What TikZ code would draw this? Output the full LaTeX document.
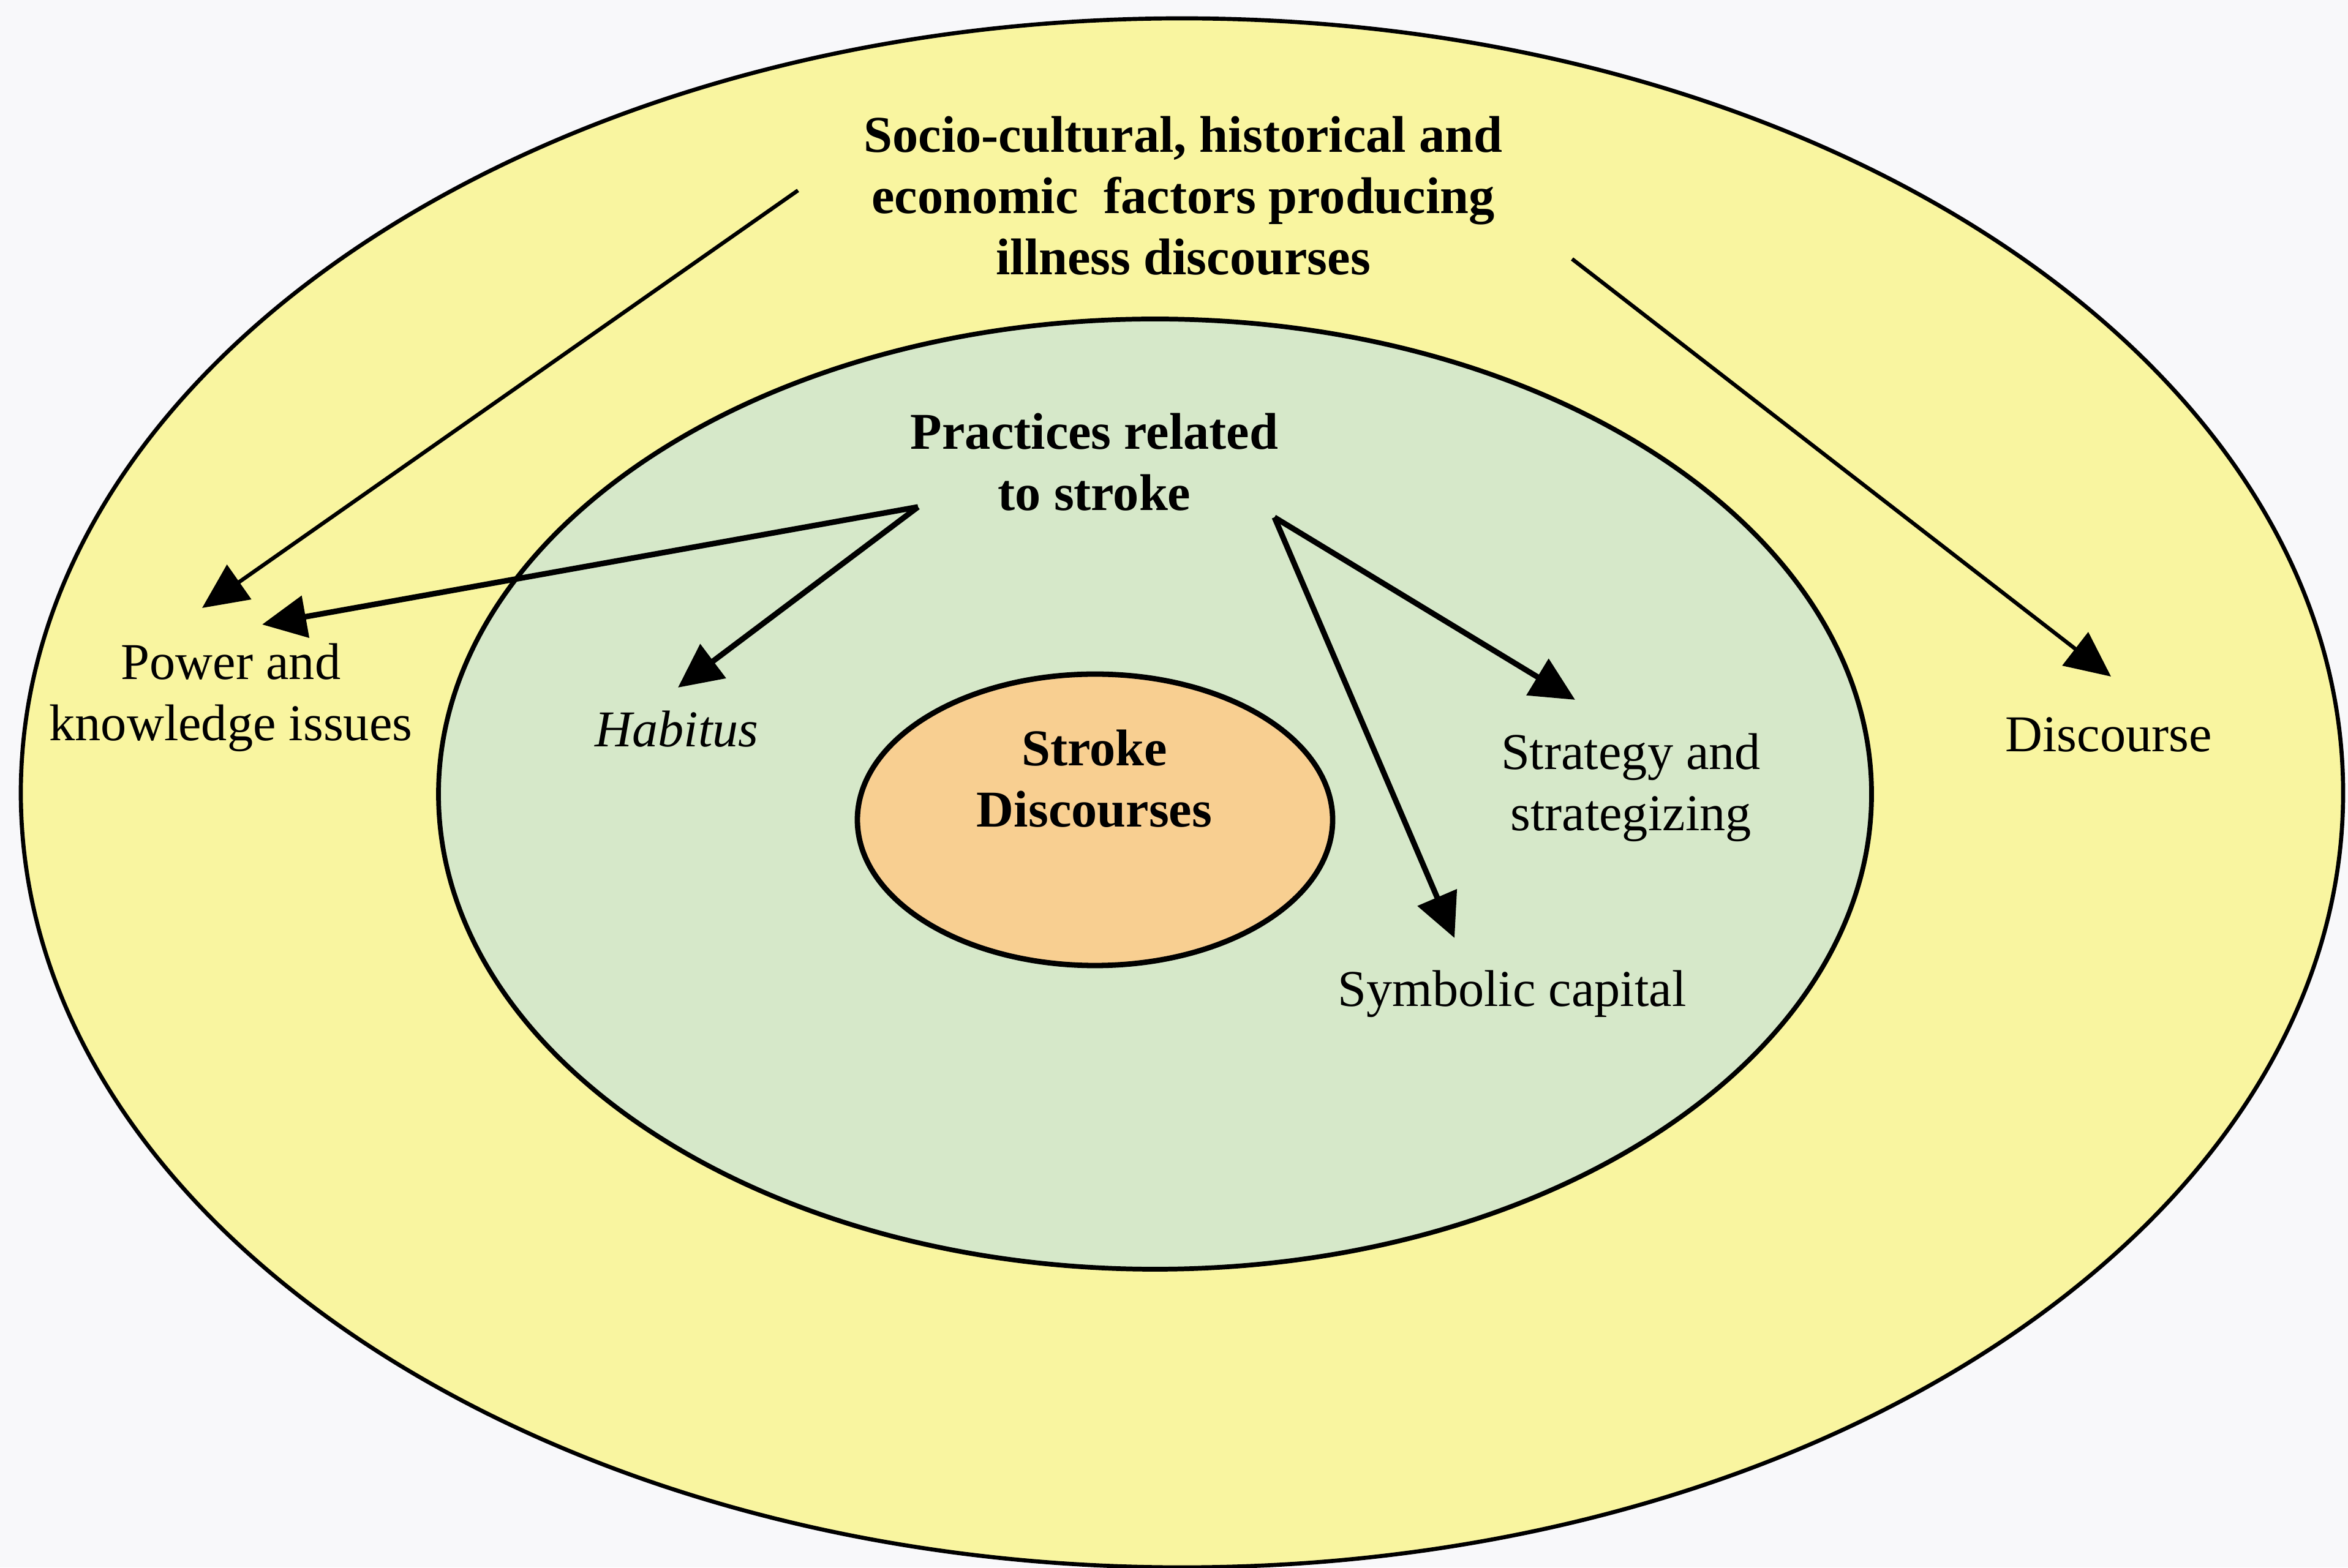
\documentclass[tikz,border=0pt]{standalone}
\usepackage{fontspec}
\setmainfont{Liberation Serif}
\usetikzlibrary{arrows.meta,shapes.geometric}

\definecolor{pagebg}{RGB}{248,248,250}
\definecolor{outerfill}{RGB}{249,245,160}
\definecolor{innerfill}{RGB}{214,232,201}
\definecolor{corefill}{RGB}{248,207,145}

\tikzset{
  ring/.style={ellipse, draw=black, inner sep=0pt},
  label/.style={align=center, font=\fontsize{24}{28.5}\selectfont, text=black, inner sep=0pt},
  boldlabel/.style={label, font=\fontsize{24}{28.5}\selectfont\bfseries},
  outerarrow/.style={line width=1.8pt, -{Triangle[length=0.74cm, width=0.68cm]}},
  innerarrow/.style={line width=2.6pt, -{Triangle[length=0.72cm, width=0.68cm]}},
}

\begin{document}
\begin{tikzpicture}
  % page
  \fill[pagebg] (0,0) rectangle (38.34,25.60);
  \useasboundingbox (0,0) rectangle (38.34,25.60);

  % nested ellipses
  \node[ring, fill=outerfill, line width=1.9pt, minimum width=37.92cm, minimum height=25.30cm] (outer) at (19.30,12.65) {};
  \node[ring, fill=innerfill, line width=2.2pt, minimum width=23.40cm, minimum height=15.52cm] (inner) at (18.86,12.63) {};
  \node[ring, fill=corefill, line width=2.5pt, minimum width=7.76cm, minimum height=4.76cm] (core) at (17.88,12.21) {};

  % labels
  \node[boldlabel] (factors) at (19.32,22.40) {Socio-cultural, historical and\\economic\ \ factors producing\\illness discourses};
  \node[boldlabel] (practices) at (17.87,18.05) {Practices related\\to stroke};
  \node[boldlabel] (stroke) at (17.87,12.88) {Stroke\\Discourses};
  \node[label] (power) at (3.77,14.21) {Power and\\knowledge issues};
  \node[label] (habitus) at (11.05,13.69) {\itshape Habitus};
  \node[label] (strategy) at (26.63,12.74) {Strategy and\\strategizing};
  \node[label] (symbolic) at (24.69,9.37) {Symbolic capital};
  \node[label] (discourse) at (34.43,13.60) {Discourse};

  % arrow ends
  \coordinate (fL) at (13.03,22.49);
  \coordinate (fR) at (25.67,21.37);
  \coordinate (pL) at (14.99,17.32);
  \coordinate (pR) at (20.81,17.15);
  \coordinate (powerA) at (3.30,15.67);
  \coordinate (powerB) at (4.28,15.40);
  \coordinate (habitusT) at (11.07,14.37);
  \coordinate (strategyT) at (25.72,14.17);
  \coordinate (symbolicT) at (23.75,10.28);
  \coordinate (discourseT) at (34.47,14.55);

  % connectors
  \draw[outerarrow] (fL) -- (powerA);
  \draw[outerarrow] (fR) -- (discourseT);
  \draw[innerarrow] (pL) -- (powerB);
  \draw[innerarrow] (pL) -- (habitusT);
  \draw[innerarrow] (pR) -- (strategyT);
  \draw[innerarrow] (pR) -- (symbolicT);
\end{tikzpicture}
\end{document}
